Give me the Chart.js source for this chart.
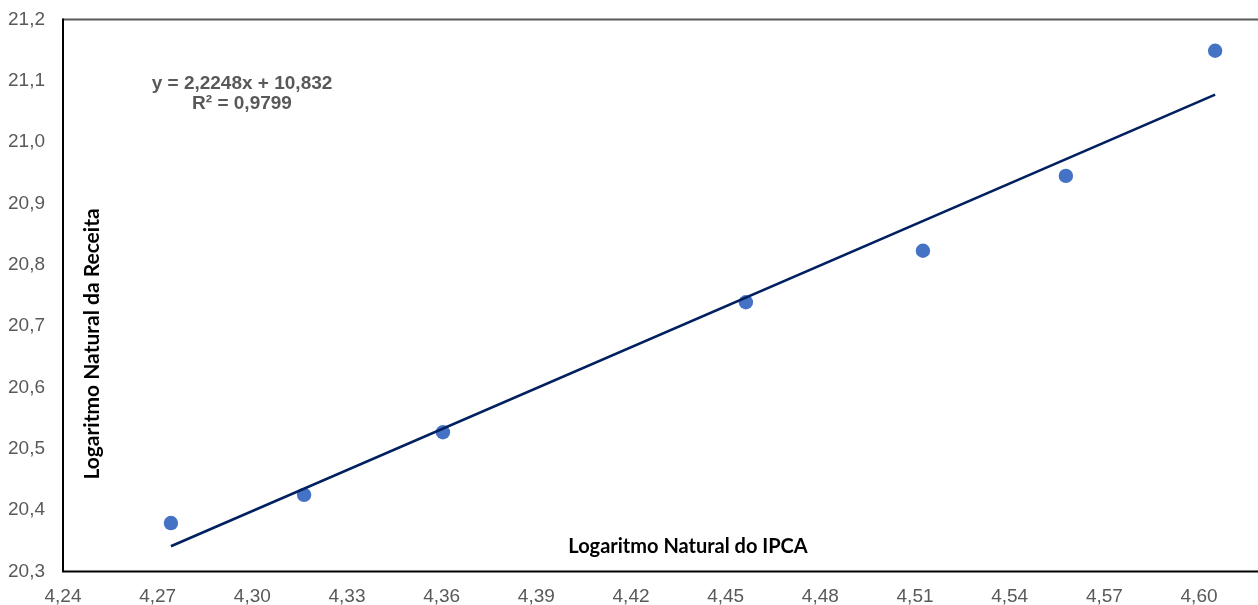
<!DOCTYPE html>
<html>
<head>
<meta charset="utf-8">
<script src="https://cdn.jsdelivr.net/npm/chart.js@4.4.1/dist/chart.umd.min.js"></script>
<style>
  html, body { margin: 0; padding: 0; background: #ffffff; overflow: hidden; }
  #wrap { width: 1258px; height: 605px; position: relative; }
</style>
</head>
<body>
<div id="wrap"><canvas id="c"></canvas></div>
<script>
// Observed pairs: ln(IPCA) vs ln(Receita)
const lnIpca    = [4.2742, 4.3164, 4.3604, 4.4564, 4.5125, 4.5578, 4.6051];
const lnReceita = [20.379, 20.425, 20.527, 20.739, 20.823, 20.945, 21.149];

// Linear trendline coefficients as reported on the chart
const slope = 2.2248;
const intercept = 10.832;
const r2 = 0.9799;

// Axis ticks
const xTicks = [4.24, 4.27, 4.30, 4.33, 4.36, 4.39, 4.42, 4.45, 4.48, 4.51, 4.54, 4.57, 4.60];
const yTicks = [20.3, 20.4, 20.5, 20.6, 20.7, 20.8, 20.9, 21.0, 21.1, 21.2];

const xTitle = 'Logaritmo Natural do IPCA';
const yTitle = 'Logaritmo Natural da Receita';

const fmt = (v, d) => v.toFixed(d).replace('.', ',');

const points = lnIpca.map((x, i) => ({ x, y: lnReceita[i] }));
const xFirst = lnIpca[0], xLast = lnIpca[lnIpca.length - 1];
const trend = [
  { x: xFirst, y: slope * xFirst + intercept },
  { x: xLast,  y: slope * xLast + intercept }
];

const eqLine1 = 'y = ' + fmt(slope, 4) + 'x + ' + fmt(intercept, 3);
const eqLine2 = 'R\u00B2 = ' + fmt(r2, 4);

const TICK_FONT = { family: '"Liberation Sans", Arial, sans-serif', size: 19 };

// Frame lines and in-plot text
const decorations = {
  id: 'decorations',
  beforeDatasetsDraw(chart) {
    const { ctx, chartArea: a } = chart;
    ctx.save();
    ctx.lineCap = 'butt';
    // top edge
    ctx.strokeStyle = '#595959';
    ctx.lineWidth = 2;
    ctx.beginPath();
    ctx.moveTo(a.left, a.top);
    ctx.lineTo(a.right, a.top);
    ctx.stroke();
    // left and bottom edges
    ctx.strokeStyle = '#000000';
    ctx.beginPath();
    ctx.moveTo(a.left, a.top - 1);
    ctx.lineTo(a.left, a.bottom + 1);
    ctx.moveTo(a.left - 1, a.bottom);
    ctx.lineTo(a.right, a.bottom);
    ctx.stroke();
    ctx.restore();
  },
  afterDraw(chart) {
    const { ctx } = chart;
    ctx.save();
    ctx.fillStyle = '#000000';
    ctx.textAlign = 'center';
    ctx.textBaseline = 'middle';
    ctx.font = 'bold 20px Lato, "Open Sans", sans-serif';
    ctx.fillText(xTitle, 688, 547);
    ctx.save();
    ctx.translate(92, 344);
    ctx.rotate(-Math.PI / 2);
    ctx.font = 'bold 21px Lato, "Open Sans", sans-serif';
    ctx.fillText(yTitle, 0, 0);
    ctx.restore();

    ctx.fillStyle = '#595959';
    ctx.font = 'bold 19px "Liberation Sans", Arial, sans-serif';
    ctx.fillText(eqLine1, 242, 84);
    ctx.fillText(eqLine2, 242, 104);
    ctx.restore();
  }
};

new Chart(document.getElementById('c'), {
  type: 'scatter',
  data: {
    datasets: [
      {
        type: 'line',
        label: 'Linear',
        data: trend,
        borderColor: '#002060',
        borderWidth: 2.6,
        pointRadius: 0,
        fill: false,
        order: 0
      },
      {
        label: 'ln(Receita)',
        data: points,
        backgroundColor: '#4472C4',
        borderColor: '#4472C4',
        borderWidth: 0,
        pointRadius: 7.2,
        order: 1
      }
    ]
  },
  options: {
    responsive: true,
    maintainAspectRatio: false,
    animation: false,
    layout: { autoPadding: false, padding: { top: 19.5, right: 0, left: 0, bottom: 0 } },
    plugins: {
      legend: { display: false },
      tooltip: { enabled: false }
    },
    scales: {
      x: {
        type: 'linear',
        min: 4.24,
        max: 4.24 + 0.03 * (1258 - 63) / 94.67,
        afterBuildTicks: axis => { axis.ticks = xTicks.map(v => ({ value: v })); },
        afterFit: scale => {
          scale.height = 605 - 571.5;
          scale.paddingLeft = 0;
          scale.paddingRight = 0;
        },
        grid: { display: false, drawTicks: false },
        border: { display: false },
        ticks: {
          color: '#595959',
          font: TICK_FONT,
          padding: 14,
          maxRotation: 0,
          autoSkip: false,
          callback: v => fmt(v, 2)
        }
      },
      y: {
        type: 'linear',
        min: 20.3,
        max: 21.2,
        afterBuildTicks: axis => { axis.ticks = yTicks.map(v => ({ value: v })); },
        afterFit: scale => {
          scale.width = 63;
          scale.paddingTop = 0;
          scale.paddingBottom = 0;
        },
        grid: { display: false, drawTicks: false },
        border: { display: false },
        ticks: {
          color: '#595959',
          font: TICK_FONT,
          padding: 18,
          autoSkip: false,
          callback: v => fmt(v, 1)
        }
      }
    }
  },
  plugins: [decorations]
});
</script>
</body>
</html>
